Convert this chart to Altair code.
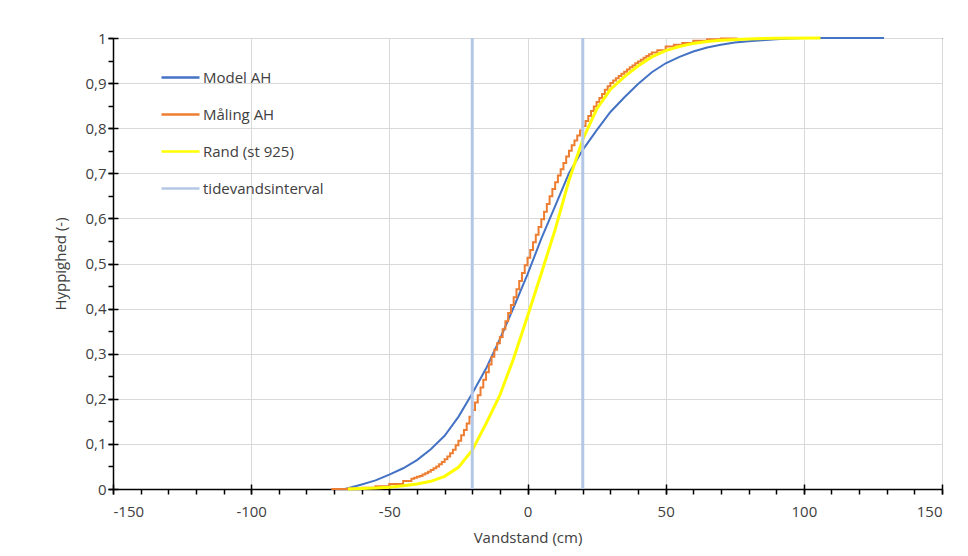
import altair as alt
import pandas as pd

# ---- data ----
series_names = ["Model AH", "Måling AH", "Rand (st 925)", "tidevandsinterval"]
series_colors = ["#4472C4", "#ED7D31", "#FFFF00", "#B4C7E7"]

model_x = [-66, -60, -55, -50, -45, -40, -35, -30, -25, -20, -15, -10, -5, 0,
           5, 10, 15, 20, 25, 30, 35, 40, 45, 50, 55, 60, 65, 70, 75, 80, 85,
           90, 95, 100, 129]
model_y = [0.0, 0.010, 0.019, 0.032, 0.046, 0.064, 0.088, 0.118, 0.160, 0.212,
           0.267, 0.332, 0.403, 0.476, 0.555, 0.627, 0.700, 0.752, 0.795,
           0.836, 0.868, 0.898, 0.924, 0.944, 0.958, 0.970, 0.979, 0.985,
           0.990, 0.993, 0.995, 0.997, 0.999, 1.0, 1.0]

maaling_x = [-71, -65, -60, -55, -50, -45, -42, -41,
             -40, -39, -38, -37, -36, -35, -34, -33, -32, -31,
             -30, -29, -28, -27, -26, -25, -24, -23, -22, -21,
             -20, -19, -18, -17, -16, -15, -14, -13, -12, -11,
             -10, -9, -8, -7, -6, -5, -4, -3, -2, -1,
             0, 1, 2, 3, 4, 5, 6, 7, 8, 9,
             10, 11, 12, 13, 14, 15, 16, 17, 18, 19,
             20, 21, 22, 23, 24, 25, 26, 27, 28, 29,
             30, 31, 32, 33, 34, 35, 36, 37, 38, 39,
             40, 41, 42, 43, 44, 45, 47, 50, 53, 56, 60, 65, 70, 76]
maaling_y = [0.0, 0.001, 0.003, 0.006, 0.011, 0.018, 0.023, 0.025,
             0.027, 0.029, 0.032, 0.035, 0.038, 0.042, 0.046, 0.050, 0.055, 0.060,
             0.066, 0.072, 0.079, 0.087, 0.097, 0.107, 0.119, 0.131, 0.145, 0.160,
             0.175, 0.192, 0.208, 0.225, 0.242, 0.259, 0.276, 0.293, 0.309, 0.323,
             0.337, 0.354, 0.372, 0.390, 0.408, 0.425, 0.443, 0.461, 0.479, 0.496,
             0.513, 0.530, 0.547, 0.564, 0.581, 0.598, 0.615, 0.632, 0.649, 0.665,
             0.680, 0.695, 0.709, 0.723, 0.737, 0.750, 0.762, 0.773, 0.784, 0.795,
             0.805, 0.816, 0.827, 0.838, 0.848, 0.858, 0.867, 0.876, 0.885, 0.893,
             0.900, 0.906, 0.911, 0.916, 0.921, 0.925, 0.930, 0.935, 0.939, 0.944,
             0.948, 0.952, 0.956, 0.960, 0.964, 0.968, 0.973, 0.981, 0.985, 0.989,
             0.994, 0.997, 0.999, 1.0]

rand_x = [-65, -55, -50, -45, -40, -35, -30, -25, -20, -15, -10, -5, 0, 5, 10,
          15, 20, 25, 30, 35, 40, 45, 50, 55, 60, 65, 70, 80, 90, 106]
rand_y = [0.0, 0.002, 0.004, 0.007, 0.011, 0.017, 0.028, 0.048, 0.086, 0.145,
          0.208, 0.290, 0.383, 0.478, 0.575, 0.684, 0.775, 0.842, 0.886, 0.914,
          0.938, 0.958, 0.972, 0.981, 0.988, 0.992, 0.995, 0.998, 0.9995, 1.0]

tide_x = [-20, 20]

x_major = [-150, -100, -50, 0, 50, 100, 150]
x_minor = list(range(-150, 151, 10))
y_major = [0, 0.1, 0.2, 0.3, 0.4, 0.5, 0.6, 0.7, 0.8, 0.9, 1]
y_minor = [round(i * 0.05, 2) for i in range(21)]

# ---- tables ----
model_df = pd.DataFrame({"x": model_x, "y": model_y, "s": series_names[0]})
maal_df = pd.DataFrame({"x": maaling_x, "y": maaling_y, "s": series_names[1]})
rand_df = pd.DataFrame({"x": rand_x, "y": rand_y, "s": series_names[2]})
tide_df = pd.DataFrame({"x": tide_x, "s": series_names[3]})

FONT = "Open Sans"
TXT = "#404040"

xscale = alt.Scale(domain=[-150, 150], nice=False, zero=False)
yscale = alt.Scale(domain=[0, 1], nice=False)

color = alt.Color(
    "s:N",
    scale=alt.Scale(domain=series_names, range=series_colors),
    legend=alt.Legend(
        title=None, orient="none", legendX=47, legendY=19,
        symbolType="stroke", symbolSize=1444, symbolStrokeWidth=2.5,
        labelFont=FONT, labelFontSize=15, labelColor=TXT, labelOffset=2,
        rowPadding=8,
    ),
)

x_axis = alt.Axis(
    values=x_major, title="Vandstand (cm)", labelExpr="datum.value + ''",
    grid=True, tickSize=5, labelPadding=10, titlePadding=11,
    orient="bottom",
)
y_axis = alt.Axis(
    values=y_major, title="Hyppighed (-)",
    labelExpr="replace(format(datum.value, '.1~f'), '.', ',')",
    grid=True, tickSize=5, labelPadding=2, titlePadding=16,
    orient="left",
)

blue = alt.Chart(model_df).mark_line(strokeWidth=2).encode(
    x=alt.X("x:Q", scale=xscale, axis=x_axis),
    y=alt.Y("y:Q", scale=yscale, axis=y_axis),
    color=color,
)
orange = alt.Chart(maal_df).mark_line(strokeWidth=2, interpolate="step-after").encode(
    x="x:Q", y="y:Q", color=color
)
yellow = alt.Chart(rand_df).mark_line(strokeWidth=3).encode(
    x="x:Q", y="y:Q", color=color
)
rules = alt.Chart(tide_df).mark_rule(strokeWidth=3).encode(
    x="x:Q", color=color
)

main = alt.layer(blue, orange, yellow, rules)

# minor ticks (outside)
minor = alt.Chart(model_df).mark_point(opacity=0).encode(
    x=alt.X("x:Q", scale=xscale,
            axis=alt.Axis(values=x_minor, labels=False, grid=False, domain=False,
                          title=None, tickSize=5, orient="bottom")),
    y=alt.Y("y:Q", scale=yscale,
            axis=alt.Axis(values=y_minor, labels=False, grid=False, domain=False,
                          title=None, tickSize=5, orient="left")),
)

# inner half of the crossing major ticks
inner = alt.Chart(model_df).mark_point(opacity=0).encode(
    x=alt.X("x:Q", scale=xscale,
            axis=alt.Axis(values=x_major, labels=False, grid=False, domain=False,
                          title=None, tickSize=5, orient="bottom", offset=-5)),
    y=alt.Y("y:Q", scale=yscale,
            axis=alt.Axis(values=y_major, labels=False, grid=False, domain=False,
                          title=None, tickSize=5, orient="left", offset=-5)),
)

chart = (
    alt.layer(main, minor, inner)
    .resolve_axis(x="independent", y="independent")
    .properties(
        width=829, height=451,
        autosize=alt.AutoSizeParams(type="none"),
        padding={"left": 105, "top": 30, "right": 16, "bottom": 58},
        background="white",
    )
    .configure_view(stroke="black", strokeWidth=1)
    .configure_axis(
        labelFont=FONT, labelFontSize=15, labelColor=TXT,
        titleFont=FONT, titleFontSize=15, titleColor=TXT, titleFontWeight="normal",
        gridColor="#D9D9D9", gridWidth=1,
        domainColor="black", domainWidth=1.5,
        tickColor="black", tickWidth=1.5,
    )
)

chart.save("out.html", embed_options={"renderer": "svg", "actions": False})
